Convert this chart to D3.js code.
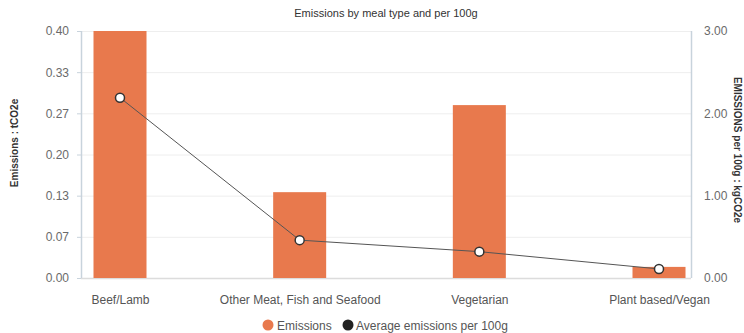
<!DOCTYPE html>
<html>
<head>
<meta charset="utf-8">
<script src="https://cdn.jsdelivr.net/npm/d3@7"></script>
<style>
  html, body { margin: 0; padding: 0; background: #fff; }
  svg { display: block; font-family: "Liberation Sans", Arial, sans-serif; }
</style>
</head>
<body>
<svg id="chart" width="744" height="333"></svg>
<script>
// Meal categories
const categories = ["Beef/Lamb", "Other Meat, Fish and Seafood", "Vegetarian", "Plant based/Vegan"];
// Total emissions (tCO2e)
const emissions = [0.40, 0.139, 0.280, 0.018];
// Average emissions per 100g (kgCO2e)
const perHundredGrams = [2.19, 0.46, 0.32, 0.11];
// Axis ticks
const leftTicks = [0, 0.4 / 6, 0.4 * 2 / 6, 0.2, 0.4 * 4 / 6, 0.4 * 5 / 6, 0.4];
const rightTicks = [0, 1, 2, 3];

const svg = d3.select("#chart");
const plot = { left: 81, right: 691, top: 31, bottom: 278 };

const x = d3.scalePoint().domain(categories).range([120, 659]);
const yL = d3.scaleLinear().domain([0, 0.4]).range([plot.bottom, plot.top]);
const yR = d3.scaleLinear().domain([0, 3]).range([plot.bottom, plot.top]);
const barW = 53;

// Title
svg.append("text")
  .attr("x", 386).attr("y", 17)
  .attr("text-anchor", "middle")
  .attr("font-size", 11).attr("font-weight", 500).attr("fill", "#333")
  .text("Emissions by meal type and per 100g");

// Grid lines
svg.append("g").selectAll("line")
  .data(leftTicks.slice(1))
  .join("line")
  .attr("x1", plot.left).attr("x2", plot.right)
  .attr("y1", d => yL(d) + 0.5).attr("y2", d => yL(d) + 0.5)
  .attr("stroke", "#eeeeee").attr("stroke-width", 1);

// Baseline
svg.append("line")
  .attr("x1", plot.left).attr("x2", plot.right)
  .attr("y1", plot.bottom + 0.5).attr("y2", plot.bottom + 0.5)
  .attr("stroke", "#dcdcdc").attr("stroke-width", 1.5);

// Left axis
const leftAxis = svg.append("g")
  .attr("transform", `translate(${plot.left},0)`)
  .call(d3.axisLeft(yL).tickValues(leftTicks).tickFormat(d3.format(".2f")).tickSize(4).tickPadding(8));
leftAxis.select(".domain").attr("stroke", "#c8d3dc").attr("stroke-width", 1.5).attr("d", `M0.5,${plot.top}V${plot.bottom}`);
leftAxis.selectAll(".tick line").attr("stroke", "#c8d3dc");
leftAxis.selectAll(".tick text").attr("font-size", 12).attr("fill", "#6a6a6a").attr("font-family", "Liberation Sans, Arial, sans-serif");

// Right axis
const rightAxis = svg.append("g")
  .attr("transform", `translate(${plot.right},0)`)
  .call(d3.axisRight(yR).tickValues(rightTicks).tickFormat(d3.format(".2f")).tickSize(0).tickPadding(13));
rightAxis.select(".domain").attr("stroke", "#c8d3dc").attr("stroke-width", 1.5).attr("d", `M0.5,${plot.top}V${plot.bottom}`);
rightAxis.selectAll(".tick text").attr("font-size", 12).attr("fill", "#6a6a6a").attr("font-family", "Liberation Sans, Arial, sans-serif");

// Bottom axis labels
const bottomAxis = svg.append("g")
  .attr("transform", `translate(0,${plot.bottom})`)
  .call(d3.axisBottom(x).tickSize(0).tickPadding(17));
bottomAxis.select(".domain").remove();
bottomAxis.selectAll(".tick text").attr("font-size", 12).attr("fill", "#555").attr("font-family", "Liberation Sans, Arial, sans-serif");

// Axis titles
svg.append("text")
  .attr("transform", "translate(18,143) rotate(-90)")
  .attr("text-anchor", "middle")
  .attr("font-size", 10).attr("font-weight", "bold").attr("fill", "#333")
  .text("Emissions : tCO2e");
svg.append("text")
  .attr("transform", "translate(734,150) rotate(90)")
  .attr("text-anchor", "middle")
  .attr("font-size", 10).attr("font-weight", "bold").attr("fill", "#333")
  .text("EMISSIONS per 100g : kgCO2e");

// Bars
svg.append("g").selectAll("rect")
  .data(categories)
  .join("rect")
  .attr("x", d => x(d) - barW / 2)
  .attr("width", barW)
  .attr("y", (d, i) => yL(emissions[i]))
  .attr("height", (d, i) => plot.bottom - yL(emissions[i]))
  .attr("fill", "#e8794d");

// Line
const lineData = categories.map((c, i) => [x(c), yR(perHundredGrams[i])]);
svg.append("path")
  .attr("d", d3.line()(lineData))
  .attr("fill", "none").attr("stroke", "#555").attr("stroke-width", 1);
svg.append("g").selectAll("circle")
  .data(lineData)
  .join("circle")
  .attr("cx", d => d[0]).attr("cy", d => d[1]).attr("r", 4.5)
  .attr("fill", "#fff").attr("stroke", "#333").attr("stroke-width", 1.5);

// Legend
const legend = svg.append("g").attr("font-size", 12).attr("fill", "#555");
legend.append("circle").attr("cx", 268).attr("cy", 325).attr("r", 5.5).attr("fill", "#e8794d");
legend.append("text").attr("x", 277).attr("y", 329.5).attr("fill", "#555").text("Emissions");
legend.append("circle").attr("cx", 348).attr("cy", 325).attr("r", 5.5).attr("fill", "#222");
legend.append("text").attr("x", 356).attr("y", 329.5).attr("fill", "#555").text("Average emissions per 100g");
</script>
</body>
</html>
